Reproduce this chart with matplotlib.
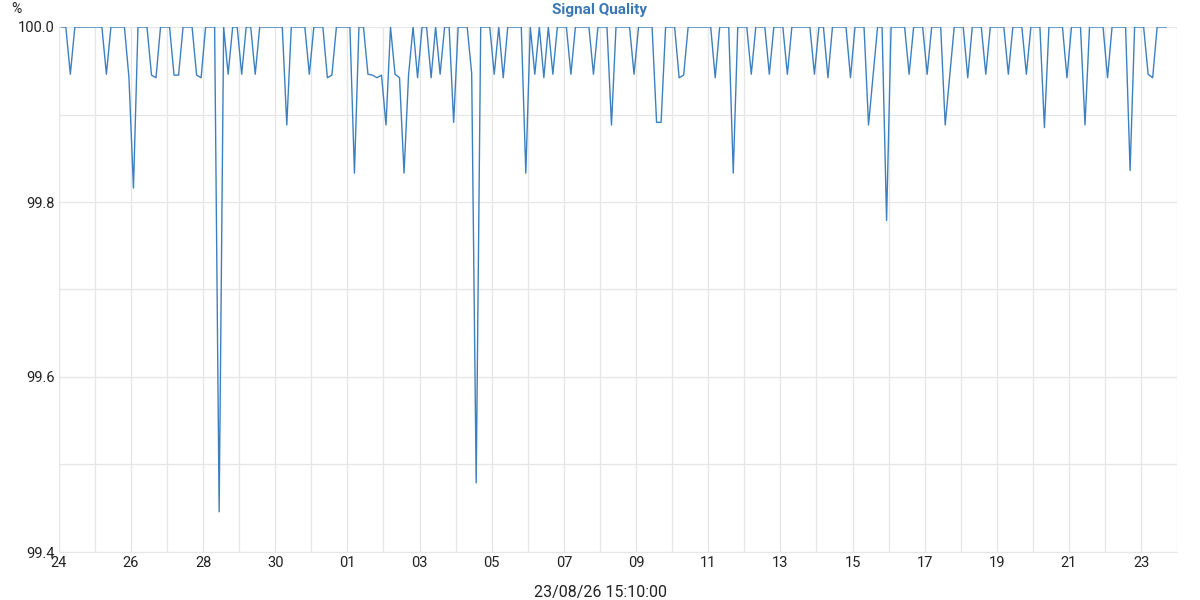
import matplotlib
matplotlib.use("Agg")
from matplotlib import pyplot as plt
import matplotlib.dates as mdates
from matplotlib.ticker import MultipleLocator, FormatStrFormatter
import numpy as np
import pandas as pd

plt.rcParams['font.family'] = ['Roboto', 'DejaVu Sans']

# samples every 3 hours, one row per day
start = '2026-07-24 01:40'
quality = [
    100, 100, 99.946, 100, 100, 100, 100, 100,
    100, 100, 99.946, 100, 100, 100, 100, 99.942,
    99.816, 100, 100, 100, 99.945, 99.942, 100, 100,
    100, 99.945, 99.945, 100, 100, 100, 99.945, 99.942,
    100, 100, 100, 99.446, 100, 99.946, 100, 100,
    99.946, 100, 100, 99.946, 100, 100, 100, 100,
    100, 100, 99.888, 100, 100, 100, 100, 99.946,
    100, 100, 100, 99.942, 99.945, 100, 100, 100,
    100, 99.833, 100, 100, 99.946, 99.945, 99.942, 99.945,
    99.888, 100, 99.946, 99.942, 99.833, 99.945, 100, 99.942,
    100, 100, 99.942, 100, 99.946, 100, 100, 99.891,
    100, 100, 100, 99.947, 99.479, 100, 100, 100,
    99.946, 100, 99.942, 100, 100, 100, 100, 99.833,
    100, 99.946, 100, 99.942, 100, 99.946, 100, 100,
    100, 99.946, 100, 100, 100, 100, 99.946, 100,
    100, 100, 99.888, 100, 100, 100, 100, 99.946,
    100, 100, 100, 100, 99.891, 99.891, 100, 100,
    100, 99.942, 99.945, 100, 100, 100, 100, 100,
    100, 99.942, 100, 100, 100, 99.833, 100, 100,
    100, 99.946, 100, 100, 100, 99.946, 100, 100,
    100, 99.946, 100, 100, 100, 100, 100, 99.946,
    100, 100, 99.942, 100, 100, 100, 100, 99.942,
    100, 100, 100, 99.888, 99.944, 100, 100, 99.779,
    100, 100, 100, 100, 99.946, 100, 100, 100,
    99.946, 100, 100, 100, 99.888, 99.944, 100, 100,
    100, 99.942, 100, 100, 100, 99.946, 100, 100,
    100, 100, 99.946, 100, 100, 100, 99.946, 100,
    100, 100, 99.885, 100, 100, 100, 100, 99.942,
    100, 100, 100, 99.888, 100, 100, 100, 100,
    99.942, 100, 100, 100, 100, 99.836, 100, 100,
    100, 99.946, 99.942, 100, 100, 100,
]
times = pd.date_range(start, periods=len(quality), freq='3h')
day_ticks = pd.date_range('2026-07-24', '2026-08-23', freq='2D')

fig = plt.figure(figsize=(12, 6), dpi=100)
ax = fig.add_axes([0.049, 0.08, 0.932, 0.875])

ax.plot(times, quality, color='#3d80bf', lw=1.0)

ax.set_xlim(pd.Timestamp('2026-07-24'), pd.Timestamp('2026-08-24'))
ax.set_ylim(99.4, 100.0)

ax.set_xticks(day_ticks)
ax.xaxis.set_major_formatter(mdates.DateFormatter('%d'))
ax.xaxis.set_minor_locator(mdates.DayLocator())
ax.yaxis.set_major_locator(MultipleLocator(0.2))
ax.yaxis.set_minor_locator(MultipleLocator(0.1))
ax.yaxis.set_major_formatter(FormatStrFormatter('%.1f'))

ax.grid(which='both', color='#e6e6e6', lw=0.9)
ax.set_axisbelow(True)
for s in ax.spines.values():
    s.set_visible(False)
ax.spines['left'].set_visible(True)
ax.spines['bottom'].set_visible(True)
ax.spines['left'].set_color('#e6e6e6')
ax.spines['bottom'].set_color('#e6e6e6')
ax.tick_params(which='both', length=0, labelsize=10.5, colors='#222222')
ax.tick_params(axis='x', pad=3)
ax.tick_params(axis='y', pad=3)

fig.text(0.5, 0.984, 'Signal Quality', fontsize=11, fontweight='bold',
         color='#3a78b5', ha='center', va='center')
fig.text(0.5, 0.012, '23/08/26 15:10:00', fontsize=11.5, color='#222222',
         ha='center', va='center')
fig.text(0.009, 0.978, '%', fontsize=10, color='#222222')

fig.savefig('out.png', dpi=100)
